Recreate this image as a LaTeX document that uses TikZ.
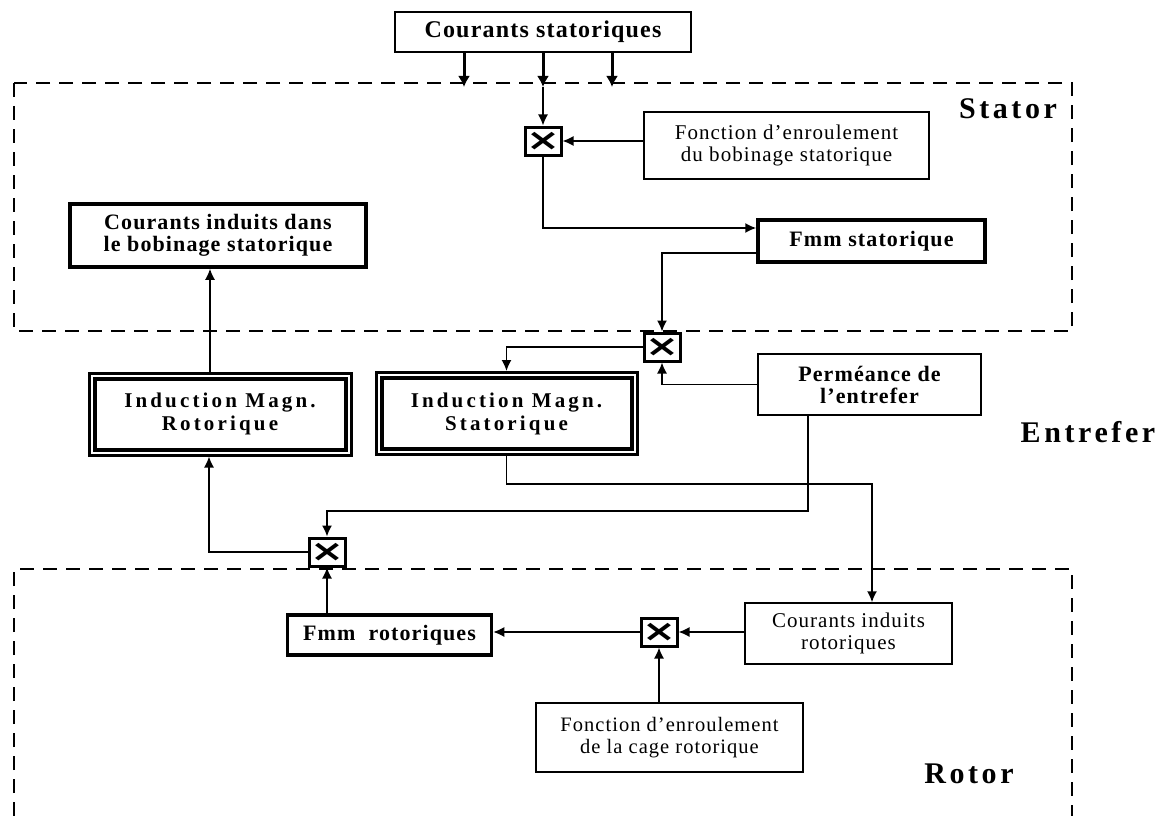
\documentclass[tikz,border=0pt]{standalone}
\usepackage{fontspec}
\setmainfont{Liberation Serif}[LetterSpace=5]
\newfontfamily\symfont{DejaVu Sans}
\usetikzlibrary{arrows.meta,calc}
\newcommand\xcross{\scalebox{1.35}[1]{\symfont\bfseries ×}}
\begin{document}
\begin{tikzpicture}[x=1pt,y=-1pt,
  arr/.style={line width=1.6pt,-{Latex[length=11pt,width=10pt]}},
  arrthick/.style={line width=3pt,-{Latex[length=11pt,width=12pt]}},
  dashbox/.style={line width=2pt,dash pattern=on 14pt off 9pt},
  thinbox/.style={draw,line width=1.5pt,align=center,inner sep=0pt,fill=white,
    font=\fontsize{21}{22}\selectfont},
  boldbox/.style={draw,line width=1.5pt,align=center,inner sep=0pt,fill=white,
    font=\fontsize{22}{22}\selectfont\bfseries},
  thickbox/.style={boldbox,line width=3.5pt},
  dblbox/.style={boldbox,line width=3pt,
    path picture={\draw[line width=4pt]
      ([shift={(5.5pt,-5.5pt)}]path picture bounding box.north west) rectangle
      ([shift={(-5.5pt,5.5pt)}]path picture bounding box.south east);}},
  mult/.style={draw,line width=3pt,fill=white,minimum width=36pt,minimum height=28pt,
    inner sep=0pt,font=\fontsize{30}{30}\selectfont},
  lbl/.style={inner sep=0pt,font=\fontsize{30}{30}\selectfont\bfseries\addfontfeatures{LetterSpace=12}}
]
\useasboundingbox (0,0) rectangle (1171,816);
\fill[white] (0,0) rectangle (1171,816);

% regions
\draw[dashbox] (14,83) rectangle (1072,331);
\draw[dashbox] (14,816) -- (14,569) -- (1072,569) -- (1072,816);

% nodes
\node[boldbox,line width=2pt,minimum width=296pt,minimum height=40pt,
  font=\fontsize{24}{24}\selectfont\bfseries] (cs) at (543,32) {Courants statoriques};
\node[thinbox,minimum width=285pt,minimum height=67pt] (fes) at (786.5,145.5)
  {Fonction d’enroulement\\du bobinage statorique};
\node[mult] (m1) at (543,141) {\xcross};
\node[thickbox,minimum width=227pt,minimum height=42pt] (fmms) at (871.5,241) {Fmm statorique};
\node[thickbox,minimum width=296pt,minimum height=63pt] (cids) at (218,235.5)
  {Courants induits dans\\le bobinage statorique};
\node[mult] (m2) at (662,347) {\xcross};
\node[dblbox,minimum width=262pt,minimum height=82pt,
  font=\fontsize{21}{23}\selectfont\bfseries\addfontfeatures{LetterSpace=15}] (imr) at (220,414)
  {Induction Magn.\\Rotorique};
\node[dblbox,minimum width=261pt,minimum height=82pt,
  font=\fontsize{21}{23}\selectfont\bfseries\addfontfeatures{LetterSpace=15}] (ims) at (506.5,413.5)
  {Induction Magn.\\Statorique};
\node[boldbox,minimum width=223pt,minimum height=61pt] (perm) at (869.5,384.5)
  {Perméance de\\l’entrefer};
\node[mult] (m3) at (327,552) {\xcross};
\node[thickbox,minimum width=204pt,minimum height=40pt] (fmmr) at (389.5,635) {Fmm\ \ rotoriques};
\node[mult] (m4) at (659,632) {\xcross};
\node[thinbox,minimum width=207pt,minimum height=61pt] (cir) at (848.5,633.5)
  {Courants induits\\rotoriques};
\node[thinbox,minimum width=267pt,minimum height=69pt,font=\fontsize{20.5}{22}\selectfont] (fer) at (669.5,737.5)
  {Fonction d’enroulement\\de la cage rotorique};

\node[lbl] (stator) at (1008,109) {Stator};
\node[lbl] (entrefer) at (1088,432) {Entrefer};
\node[lbl] (rotor) at (969,774) {Rotor};

% connectors
\coordinate (t1) at (464,87);
\coordinate (t2) at (543,87);
\coordinate (t3) at (612,87);
\draw[arrthick] (cs.south -| t1) -- (t1);
\draw[arrthick] (cs.south) -- (t2);
\draw[arrthick] (cs.south -| t3) -- (t3);
\draw[arr] (t2) -- (m1.north);
\draw[arr] (m1.east -| fes.west) -- (m1.east);
\draw[arr] (m1.south) |- ([yshift=13pt]fmms.west);
\draw[arr] ([yshift=-12pt]fmms.west) -| (m2.north);
\draw[arr] (m2.west) -| (ims.north);
\draw[arr] (perm.west) -| (m2.south);
\coordinate (j1) at (808,511);
\draw[arr] (perm.south -| j1) -- (j1) -| (m3.north);
\draw[arr] (ims.south) -- ++(0,28) -| ([xshift=23.5pt]cir.north);
\draw[arr] (m3.west) -| ([xshift=-11pt]imr.south);
\draw[arr] ([xshift=-10pt]imr.north) -- ([xshift=-10pt]imr.north |- cids.south);
\draw[arr] (fmmr.north -| m3.south) -- (m3.south);
\draw[arr] (m4.west) -- (m4.west -| fmmr.east);
\draw[arr] (m4.east -| cir.west) -- (m4.east);
\draw[arr] (fer.north -| m4.south) -- (m4.south);
\end{tikzpicture}
\end{document}
